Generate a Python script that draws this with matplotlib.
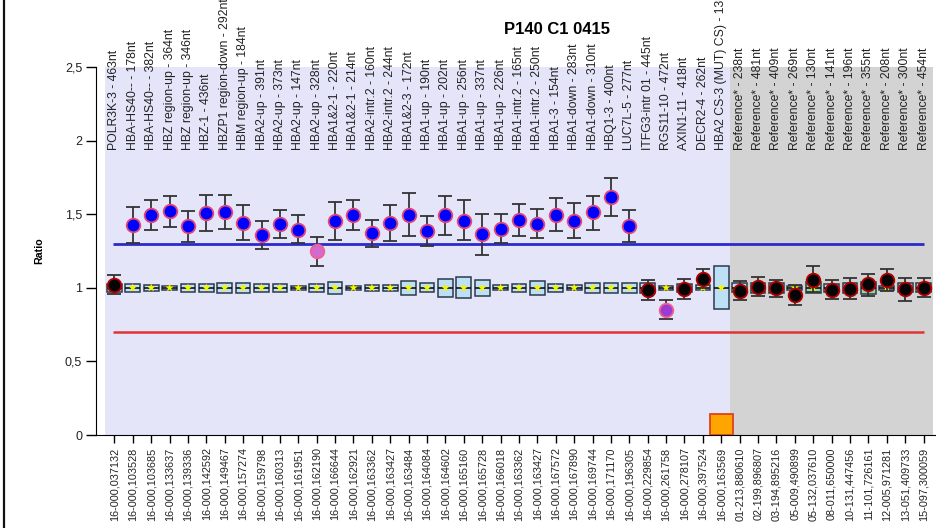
import matplotlib
matplotlib.use("Agg")
import matplotlib.pyplot as plt
import numpy as np
from matplotlib.lines import Line2D

plt.rcParams["font.family"] = ["Liberation Sans", "DejaVu Sans"]

# probe labels (top) and chromosome positions (bottom)
probe_names = [
    "POLR3K-3 - 463nt", "HBA-HS40-- - 178nt", "HBA-HS40-- - 382nt",
    "HBZ region-up - 364nt", "HBZ region-up - 346nt", "HBZ-1 - 436nt",
    "HBZP1 region-down - 292nt", "HBM region-up - 184nt", "HBA2-up - 391nt",
    "HBA2-up - 373nt", "HBA2-up - 147nt", "HBA2-up - 328nt",
    "HBA1&2-1 - 220nt", "HBA1&2-1 - 214nt", "HBA2-intr.2 - 160nt",
    "HBA2-intr.2 - 244nt", "HBA1&2-3 - 172nt", "HBA1-up - 190nt",
    "HBA1-up - 202nt", "HBA1-up - 256nt", "HBA1-up - 337nt", "HBA1-up - 226nt",
    "HBA1-intr.2 - 165nt", "HBA1-intr.2 - 250nt", "HBA1-3 - 154nt",
    "HBA1-down - 283nt", "HBA1-down - 310nt", "HBQ1-3 - 400nt",
    "LUC7L-5 - 277nt", "ITFG3-intr 01 - 445nt", "RGS11-10 - 472nt",
    "AXIN1-11 - 418nt", "DECR2-4 - 262nt", "HBA2 CS-3 (MUT) CS) - 136nt",
    "Reference* - 238nt", "Reference* - 481nt", "Reference* - 409nt",
    "Reference* - 269nt", "Reference* - 130nt", "Reference* - 141nt",
    "Reference* - 196nt", "Reference* - 355nt", "Reference* - 208nt",
    "Reference* - 300nt", "Reference* - 454nt",
]
probe_pos = [
    "16-000,037132", "16-000,103528", "16-000,103685", "16-000,133637",
    "16-000,139336", "16-000,142592", "16-000,149467", "16-000,157274",
    "16-000,159798", "16-000,160313", "16-000,161951", "16-000,162190",
    "16-000,166644", "16-000,162921", "16-000,163362", "16-000,163427",
    "16-000,163484", "16-000,164084", "16-000,164602", "16-000,165160",
    "16-000,165728", "16-000,166018", "16-000,163362", "16-000,163427",
    "16-000,167572", "16-000,167890", "16-000,169744", "16-000,171170",
    "16-000,196305", "16-000,229854", "16-000,261758", "16-000,278107",
    "16-000,397524", "16-000,163569",
    "01-213,880610", "02-199,896807", "03-194,895216", "05-009,490899",
    "05-132,037610", "08-011,650000", "10-131,447456", "11-101,726161",
    "12-005,971281", "13-051,409733", "15-097,300059",
]

# sample ratio with 95% range, NaN where no ratio is plotted
ratio = [1.018, 1.427, 1.497, 1.520, 1.418, 1.509, 1.518, 1.441, 1.357, 1.432,
         1.396, 1.247, 1.455, 1.497, 1.369, 1.441, 1.497, 1.384, 1.493, 1.457,
         1.364, 1.398, 1.461, 1.436, 1.497, 1.457, 1.513, 1.619, 1.418, 0.984,
         0.851, 0.989, 1.057, np.nan, 0.978, 1.007, 0.996, 0.949, 1.052, 0.984,
         0.993, 1.023, 1.052, 0.989, 1.001]
ratio_hi = [1.084, 1.547, 1.599, 1.626, 1.524, 1.633, 1.633, 1.563, 1.457, 1.529,
            1.495, 1.346, 1.583, 1.599, 1.463, 1.563, 1.644, 1.488, 1.626, 1.594,
            1.504, 1.504, 1.570, 1.536, 1.608, 1.576, 1.626, 1.743, 1.529, 1.055,
            0.919, 1.061, 1.127, np.nan, 1.046, 1.073, 1.052, 1.018, 1.147, 1.052,
            1.066, 1.093, 1.125, 1.066, 1.066]
ratio_lo = [0.955, 1.305, 1.396, 1.411, 1.314, 1.389, 1.400, 1.323, 1.262, 1.339,
            1.305, 1.145, 1.328, 1.393, 1.276, 1.321, 1.350, 1.283, 1.357, 1.323,
            1.224, 1.305, 1.352, 1.341, 1.387, 1.341, 1.396, 1.491, 1.308, 0.917,
            0.786, 0.926, 1.000, np.nan, 0.915, 0.944, 0.937, 0.881, 0.971, 0.921,
            0.926, 0.944, 0.978, 0.910, 0.940]
call = ["norm"] + ["gain"] * 10 + ["gain_weak"] + ["gain"] * 17 + \
       ["norm", "loss_weak", "norm", "norm", "mut"] + ["norm"] * 11

# reference sample spread around 1 (half height of each box)
ref_spread = [0.028, 0.028, 0.021, 0.014, 0.028, 0.028, 0.035, 0.035, 0.028,
              0.028, 0.014, 0.028, 0.042, 0.014, 0.021, 0.021, 0.049, 0.031,
              0.060, 0.072, 0.054, 0.016, 0.028, 0.048, 0.028, 0.016, 0.033,
              0.033, 0.033, 0.033, 0.014, 0.028, 0.016, 0.147, 0.030, 0.032,
              0.034, 0.014, 0.038, 0.026, 0.034, 0.042, 0.014, 0.030, 0.030]
ref_flag = ["b"] * 38 + ["g", "b", "b", "g", "b", "b", "b"]

upper_limit = 1.3
lower_limit = 0.7
n_target = 34  # probes before the reference block

y_ticks = [0, 0.5, 1, 1.5, 2, 2.5]
y_tick_labels = ["0", "0,5", "1", "1,5", "2", "2,5"]

x = np.arange(len(probe_names))
ratio = np.array(ratio)
ratio_hi = np.array(ratio_hi)
ratio_lo = np.array(ratio_lo)
ref_spread = np.array(ref_spread)

fig = plt.figure(figsize=(9.37, 5.28), dpi=100)
ax = fig.add_axes([96 / 937, 93 / 528, 841 / 937, 368 / 528])

ax.axvspan(-0.5, n_target - 0.5, color="#E5E5FA", zorder=0, lw=0)
ax.axvspan(n_target - 0.5, len(x) - 0.5, color="#D3D3D3", zorder=0, lw=0)

# threshold lines
ax.hlines(upper_limit, -0.1, len(x) - 0.95, color="#2A2ACC", lw=2, zorder=2)
ax.hlines(lower_limit, -0.1, len(x) - 0.95, color="#E03535", lw=1.8, zorder=2)

# reference boxes with median line and star
box_w = 0.8
box_fc = {"b": "#BDE0F7", "g": "#93D89A"}
ax.bar(x, 2 * ref_spread, bottom=1 - ref_spread, width=box_w,
       color=[box_fc[f] for f in ref_flag], edgecolor="#2B3B4B", lw=1.1, zorder=3)
ax.hlines(np.ones(len(x)), x - box_w / 2, x + box_w / 2, color="#111111", lw=1.2, zorder=4)
ax.scatter(x, np.ones(len(x)), marker="*", s=42, color="#F5F500", edgecolors="none", zorder=5)

# mutation probe drawn as a square on the baseline
mut = np.array([c == "mut" for c in call])
ax.bar(x[mut], 0.145, width=1.25, color="#FFA500", edgecolor="#E04020", lw=1.3, zorder=6)

# error bars and sample ratio markers
ok = ~np.isnan(ratio)
ax.errorbar(x[ok], ratio[ok], yerr=[ratio[ok] - ratio_lo[ok], ratio_hi[ok] - ratio[ok]],
            fmt="none", ecolor="#333333", elinewidth=1.3, capsize=4.8, capthick=1.3, zorder=6)
face = {"gain": "#0000FF", "gain_weak": "#D46AD0", "norm": "#050505", "loss_weak": "#9A3CD4"}
edge = {"gain": "#E0487C", "gain_weak": "#F06090", "norm": "#B40000", "loss_weak": "#F06090"}
for key in face:
    m = np.array([c == key for c in call])
    ax.plot(x[m], ratio[m], "o", ms=9.8, mfc=face[key], mec=edge[key], mew=1.3,
            ls="none", zorder=7)

# probe names above the data
for i, name in enumerate(probe_names):
    ax.text(i, 1.935, name, rotation=90, ha="center", va="bottom",
            fontsize=8.8, color="#222222")

ax.set_xlim(-1.0, 44.73)
ax.set_ylim(0, 2.5)
ax.set_yticks(y_ticks)
ax.set_yticklabels(y_tick_labels, fontsize=9, color="#222222")
ax.set_xticks(x)
ax.set_xticklabels(probe_pos, rotation=90, fontsize=7.8, color="#222222")
ax.tick_params(axis="y", length=7, width=1, direction="out", pad=3)
ax.tick_params(axis="x", length=6, width=1, direction="out", pad=3)
ax.spines["top"].set_visible(False)
ax.spines["right"].set_visible(False)
ax.set_facecolor("white")

ax.set_ylabel("Ratio", fontsize=7.7, fontweight="bold", labelpad=15)
fig.text(557 / 937, 1 - 30 / 528, "P140 C1 0415", ha="center", va="center",
         fontsize=12, fontweight="bold")

fig.add_artist(Line2D([4 / 937, 4 / 937], [0, 1], transform=fig.transFigure,
                      color="#111111", lw=1.6))

fig.savefig("out.png", dpi=100)
